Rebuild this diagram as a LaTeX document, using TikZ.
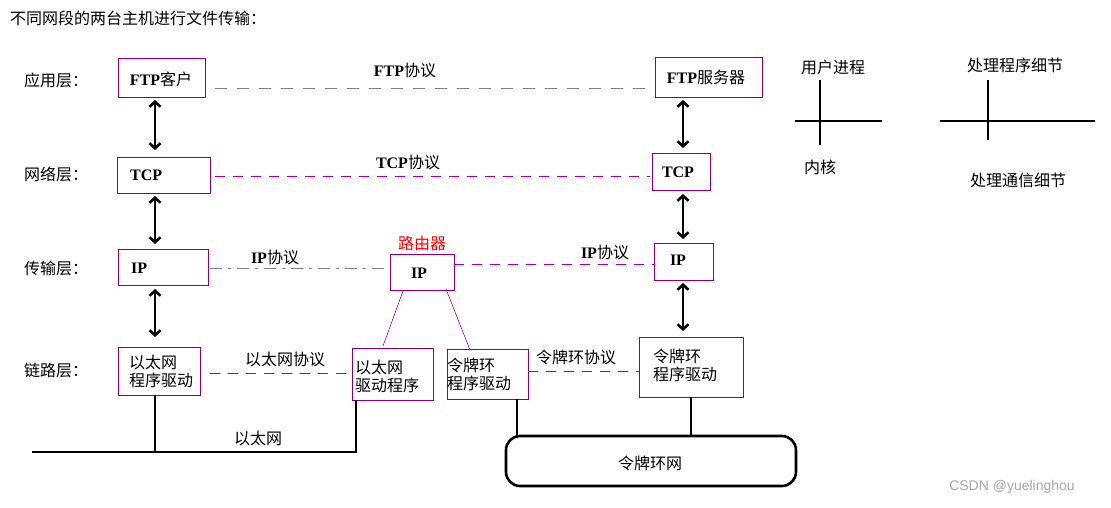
\documentclass[tikz,border=0pt]{standalone}
\usepackage{fontspec}
\setmainfont{Liberation Serif}
\newfontfamily\cjk{Noto Sans CJK SC}[BoldFont={Noto Sans CJK SC Bold}]
\newcommand\lat[1]{{\fontspec{Liberation Serif}[BoldFont={Liberation Serif Bold}]\bfseries #1}}
\usetikzlibrary{arrows.meta}
\begin{document}
\begin{tikzpicture}[x=1pt,y=-1pt,
  txt/.style={font=\cjk\fontsize{16}{18}\selectfont, inner sep=0pt},
  box/.style={draw=violet!70!magenta!80!black, line width=0.7pt, inner sep=0pt},
  dar/.style={line width=2.6pt,{Straight Barb[length=5pt,width=11pt]}-{Straight Barb[length=5pt,width=11pt]}},
  thk/.style={line width=2.6pt},
  pd/.style={draw=violet!70!magenta, dash pattern=on 10pt off 8pt, line width=0.7pt},
  gd/.style={draw=gray, dash pattern=on 12pt off 10pt, line width=0.7pt},
  lk/.style={draw=violet!70!magenta, line width=0.6pt}]
\useasboundingbox (0,0) rectangle (1111,507);
\node[txt, anchor=west] (title) at (10,18) {不同网段的两台主机进行文件传输：};
\node[txt, anchor=west] (l1) at (24,80) {应用层：};
\node[txt, anchor=west] (l2) at (24,174) {网络层：};
\node[txt, anchor=west] (l3) at (24,268) {传输层：};
\node[txt, anchor=west] (l4) at (24,370) {链路层：};
% boxes
\draw[box] (118,58) rectangle (205,97); \node[txt] (ftpc) at (161,79) {\lat{FTP}客户};
\draw[box] (655,57) rectangle (762,97); \node[txt] (ftps) at (706,77) {\lat{FTP}服务器};
\draw[box] (117,157) rectangle (210,193); \node[txt,anchor=west] (tcpl) at (130,175) {\lat{TCP}};
\draw[box] (652,153) rectangle (710,190); \node[txt] (tcpr) at (678,172) {\lat{TCP}};
\draw[box] (118,249) rectangle (208,285); \node[txt,anchor=west] (ipl) at (131,268) {\lat{IP}};
\draw[box] (390,254) rectangle (454,290); \node[txt] (ipm) at (419,273) {\lat{IP}};
\node[txt, text=red] (router) at (422,243) {路由器};
\draw[box] (654,243) rectangle (713,280); \node[txt] (ipr) at (678,260) {\lat{IP}};
\draw[box] (118,347) rectangle (200,395);
\node[txt, align=left, anchor=west] (eth1) at (129,371) {以太网\\程序驱动};
\draw[box] (352,348) rectangle (433,400);
\node[txt, align=left, anchor=west] (eth2) at (355,376) {以太网\\驱动程序};
\draw[box] (447,349) rectangle (528,399);
\node[txt, align=left, anchor=west] (tr1) at (447,374) {令牌环\\程序驱动};
\draw[box] (639,337) rectangle (743,397);
\node[txt, align=left, anchor=west] (tr2) at (653,365) {令牌环\\程序驱动};
% coordinates
\coordinate (a1) at (155,100); \coordinate (a2) at (155,150);
\coordinate (a3) at (155,196); \coordinate (a4) at (155,244);
\coordinate (a5) at (155,289); \coordinate (a6) at (155,337);
\coordinate (b1) at (683,100); \coordinate (b2) at (683,148);
\coordinate (b3) at (683,194); \coordinate (b4) at (683,239);
\coordinate (b5) at (683,283); \coordinate (b6) at (683,331);
\draw[dar] (a1) -- (a2); \draw[dar] (a3) -- (a4); \draw[dar] (a5) -- (a6);
\draw[dar] (b1) -- (b2); \draw[dar] (b3) -- (b4); \draw[dar] (b5) -- (b6);
% protocol lines
\coordinate (p1) at (215,88); \coordinate (p2) at (650,88);
\draw[gd] (p1) -- (p2); \node[txt] (ftpp) at (405,70) {\lat{FTP}协议};
\coordinate (q1) at (215,176); \coordinate (q2) at (650,176);
\draw[pd] (q1) -- (q2); \node[txt] (tcpp) at (408,162) {\lat{TCP}协议};
\coordinate (r1) at (210,268); \coordinate (r2) at (390,268);
\draw[gray, line width=0.7pt, dash pattern=on 12pt off 6pt on 3pt off 6pt] (r1) -- (r2);
\node[txt] (ipp1) at (275,257) {\lat{IP}协议};
\coordinate (s1) at (454,264); \coordinate (s2) at (654,264);
\draw[pd] (s1) -- (s2); \node[txt] (ipp2) at (605,252) {\lat{IP}协议};
\coordinate (t1) at (210,373); \coordinate (t2) at (352,373);
\draw[pd] (t1) -- (t2); \node[txt] (ethp) at (285,359) {以太网协议};
\coordinate (u1) at (528,371); \coordinate (u2) at (639,371);
\draw[pd] (u1) -- (u2); \node[txt] (trp) at (576,357) {令牌环协议};
% router links
\coordinate (m1) at (403,291); \coordinate (m2) at (383,346);
\coordinate (m3) at (446,289); \coordinate (m4) at (470,350);
\draw[lk] (m1) -- (m2); \draw[lk] (m3) -- (m4);
% ethernet
\coordinate (e0) at (32,452); \coordinate (e1) at (155,395);
\coordinate (e2) at (356,400); \coordinate (e3) at (356,452);
\draw[thk] (e0) -- (e3) -- (e2); \draw[thk] (e1) -- (155,452);
\node[txt] (ethn) at (258,438) {以太网};
% token ring
\draw[thk, rounded corners=14pt] (506,436) rectangle (796,486);
\node[txt] (trn) at (650,463) {令牌环网};
\draw[thk] (517,399) -- (517,438); \draw[thk] (691,397) -- (691,437);
% legend
\node[txt] (up) at (833,67) {用户进程};
\draw[thk] (795,121) -- (882,121); \draw[thk] (820,80) -- (820,145);
\node[txt] (kern) at (820,167) {内核};
\node[txt] (hp) at (1015,65) {处理程序细节};
\draw[thk] (940,121) -- (1095,121); \draw[thk] (988,80) -- (988,140);
\node[txt] (hc) at (1018,180) {处理通信细节};
\node[font=\fontspec{Liberation Sans}\fontsize{14}{16}\selectfont, text=gray!70, inner sep=0pt] (csdn) at (1012,487) {CSDN @yuelinghou};
\end{tikzpicture}
\end{document}
